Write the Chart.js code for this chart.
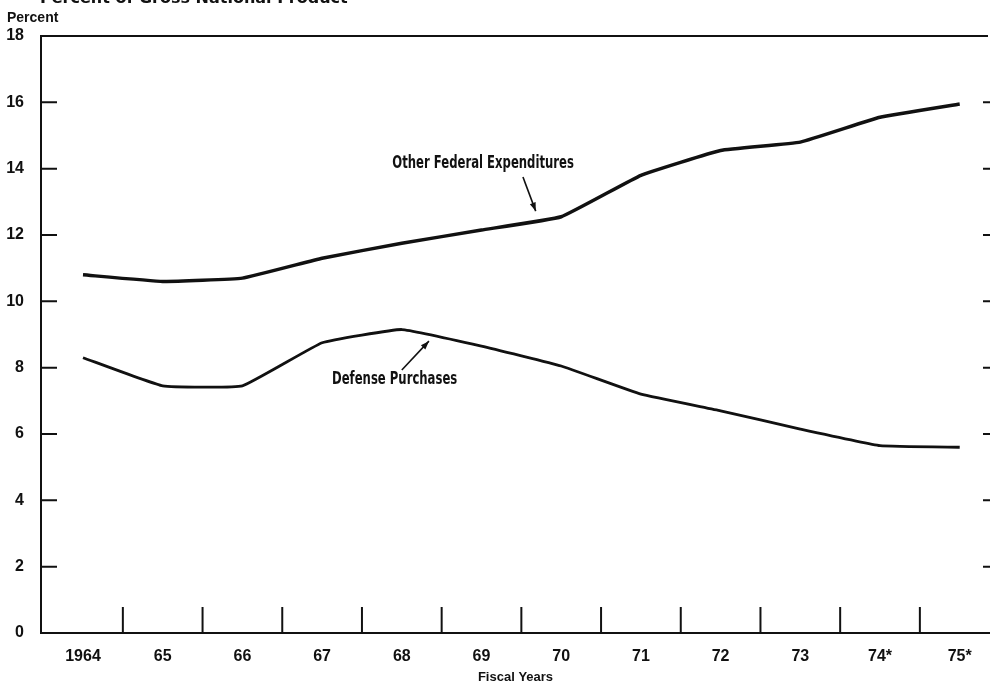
<!DOCTYPE html>
<html>
<head>
<meta charset="utf-8">
<script src="https://cdn.jsdelivr.net/npm/chart.js@4.4.1/dist/chart.umd.min.js"></script>
<style>
    html, body { margin: 0; padding: 0; background: #fff; overflow: hidden; }
    #wrap { position: relative; width: 990px; height: 682px; }
    #title {
        position: absolute; left: 40px; top: -12px; line-height: 18px;
        font: bold 16px "DejaVu Sans", sans-serif; color: #111; white-space: nowrap;
    }
    #ylabel {
        position: absolute; left: 7px; top: 9px;
        font: bold 14px "Liberation Sans", sans-serif; color: #111;
    }
</style>
</head>
<body>
<div id="wrap">
    <canvas id="chart"></canvas>
    <div id="title">Percent of Gross National Product</div>
    <div id="ylabel">Percent</div>
</div>
<script>
// 财年标签
const years = ['1964', '65', '66', '67', '68', '69', '70', '71', '72', '73', '74*', '75*'];
// 其他联邦支出 (占GNP百分比)
const otherFederal = [10.8, 10.6, 10.7, 11.3, 11.75, 12.15, 12.55, 13.8, 14.55, 14.8, 15.55, 15.95];
// 国防采购
const defense = [8.3, 7.45, 7.45, 8.75, 9.15, 8.65, 8.05, 7.2, 6.7, 6.15, 5.65, 5.6];
// y 轴刻度
const yTicks = [0, 2, 4, 6, 8, 10, 12, 14, 16, 18];

// 标注: 文字位置与箭头 (数据坐标)
const notes = [
    { text: 'Other Federal Expenditures', x: 5.02, y: 14.17, from: [5.52, 13.75], to: [5.68, 12.72] },
    { text: 'Defense Purchases', x: 3.91, y: 7.63, from: [4.0, 7.93], to: [4.34, 8.8] }
];

const frame = {
    id: 'frame',
    afterDraw(chart) {
        const ctx = chart.ctx;
        const xs = chart.scales.x;
        const ys = chart.scales.y;
        const area = chart.chartArea;
        ctx.save();
        ctx.strokeStyle = '#111';
        ctx.lineWidth = 2;

        // 顶部边框
        ctx.beginPath();
        ctx.moveTo(area.left, area.top);
        ctx.lineTo(area.right - 2, area.top);
        ctx.stroke();

        // 左右内侧刻度
        yTicks.slice(1, -1).forEach(v => {
            const py = ys.getPixelForValue(v);
            ctx.beginPath();
            ctx.moveTo(area.left, py);
            ctx.lineTo(area.left + 16, py);
            ctx.moveTo(area.right - 7, py);
            ctx.lineTo(area.right, py);
            ctx.stroke();
        });

        // 年份之间的竖刻度
        for (let i = 0; i < years.length - 1; i++) {
            const px = xs.getPixelForValue(i + 0.5);
            ctx.beginPath();
            ctx.moveTo(px, area.bottom);
            ctx.lineTo(px, area.bottom - 26);
            ctx.stroke();
        }

        // 标注 (压缩字体)
        ctx.fillStyle = '#111';
        ctx.font = 'bold 16px "Liberation Sans Narrow", "DejaVu Sans Condensed", sans-serif';
        ctx.textAlign = 'center';
        ctx.textBaseline = 'middle';
        ctx.lineWidth = 1.6;
        notes.forEach(n => {
            const tx = xs.getPixelForValue(n.x), ty = ys.getPixelForValue(n.y);
            ctx.save();
            ctx.translate(tx, ty);
            ctx.scale(0.81, 1.08);
            ctx.fillText(n.text, 0, 0);
            ctx.restore();
            const x1 = xs.getPixelForValue(n.from[0]), y1 = ys.getPixelForValue(n.from[1]);
            const x2 = xs.getPixelForValue(n.to[0]), y2 = ys.getPixelForValue(n.to[1]);
            ctx.beginPath();
            ctx.moveTo(x1, y1);
            ctx.lineTo(x2, y2);
            ctx.stroke();
            const a = Math.atan2(y2 - y1, x2 - x1);
            ctx.beginPath();
            ctx.moveTo(x2, y2);
            ctx.lineTo(x2 - 9 * Math.cos(a - 0.35), y2 - 9 * Math.sin(a - 0.35));
            ctx.lineTo(x2 - 9 * Math.cos(a + 0.35), y2 - 9 * Math.sin(a + 0.35));
            ctx.closePath();
            ctx.fill();
        });
        ctx.restore();
    }
};

const tickFont = { family: '"Liberation Sans", sans-serif', size: 16, weight: 'bold' };

new Chart(document.getElementById('chart'), {
    type: 'line',
    data: {
        datasets: [
            {
                label: 'Other Federal Expenditures',
                data: otherFederal.map((v, i) => ({ x: i, y: v })),
                borderColor: '#111',
                borderWidth: 3.5,
                tension: 0.1,
                pointRadius: 0
            },
            {
                label: 'Defense Purchases',
                data: defense.map((v, i) => ({ x: i, y: v })),
                borderColor: '#111',
                borderWidth: 2.8,
                tension: 0.1,
                pointRadius: 0
            }
        ]
    },
    options: {
        responsive: true,
        maintainAspectRatio: false,
        animation: false,
        layout: { padding: { top: 36, right: 0, left: 0, bottom: 0 } },
        plugins: {
            legend: { display: false },
            tooltip: { enabled: false }
        },
        scales: {
            x: {
                type: 'linear',
                min: -0.527,
                max: 11.38,
                afterFit: s => { s.height = 49; },
                grid: { display: false },
                border: { display: true, color: '#111', width: 2 },
                ticks: {
                    stepSize: 1,
                    includeBounds: false,
                    autoSkip: false,
                    maxRotation: 0,
                    padding: 6,
                    color: '#111',
                    font: tickFont,
                    callback: v => Number.isInteger(v) && years[v] !== undefined ? years[v] : ''
                },
                title: {
                    display: true,
                    text: 'Fiscal Years',
                    color: '#111',
                    font: { family: '"Liberation Sans", sans-serif', size: 13, weight: 'bold' },
                    padding: { top: 2, bottom: -3 }
                }
            },
            y: {
                min: 0,
                max: 18,
                afterFit: s => { s.width = 41; },
                grid: { display: false },
                border: { display: true, color: '#111', width: 2 },
                ticks: {
                    stepSize: 2,
                    padding: 9,
                    color: '#111',
                    font: tickFont
                }
            }
        }
    },
    plugins: [frame]
});
</script>
</body>
</html>
